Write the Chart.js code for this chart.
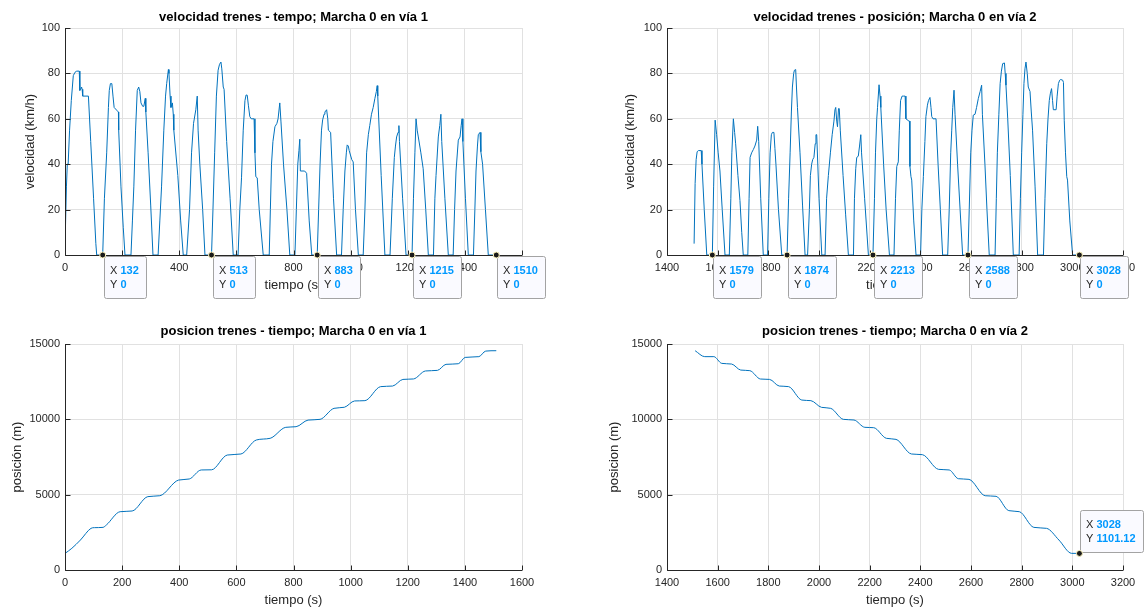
<!DOCTYPE html>
<html>
<head>
<meta charset="utf-8">
<script src="https://cdn.jsdelivr.net/npm/chart.js@4.4.0/dist/chart.umd.min.js"></script>
<style>
  body { margin: 0; background: #fff; width: 1145px; height: 609px; position: relative; overflow: hidden; }
  canvas { position: absolute; }
</style>
</head>
<body>
<canvas id="velVia1" width="572" height="300" style="left:0;top:0"></canvas>
<canvas id="velVia2" width="545" height="300" style="left:600px;top:0"></canvas>
<canvas id="posVia1" width="572" height="304" style="left:0;top:305px"></canvas>
<canvas id="posVia2" width="545" height="304" style="left:600px;top:305px"></canvas>
<script>
// velocidad, vía 1 (tiempo s, km/h)
const velTime1 = [0, 5, 8, 11, 16, 22, 29, 35, 41, 50, 52, 55, 58, 60, 62, 82, 90, 100, 108, 111,
  132, 138, 146, 152, 155, 159, 164, 168, 172, 183, 187, 188, 196, 204, 210,
  231, 236, 241, 247, 253, 258, 262, 266, 272, 276, 281, 283, 291, 300, 308,
  326, 332, 338, 346, 352, 356, 362, 364, 368, 371, 376, 379, 381, 395, 405, 414,
  426, 436, 443, 450, 458, 463, 466, 472, 482, 490,
  513, 518, 524, 530, 536, 541, 546, 549, 554, 557, 566, 578, 589,
  606, 612, 618, 624, 630, 634, 638, 642, 647, 652, 662, 665, 668, 673, 680, 694,
  715, 719, 723, 728, 735, 742, 746, 752, 756, 765, 777, 787,
  805, 810, 815, 819, 822, 824, 839, 846, 855, 864,
  883, 888, 893, 898, 902, 907, 910, 916, 920, 922, 930, 940, 951,
  968, 974, 980, 985, 988, 992, 995, 1004, 1009, 1017, 1027,
  1044, 1050, 1056, 1062, 1067, 1073, 1079, 1085, 1090, 1093, 1095, 1107, 1120,
  1138, 1146, 1153, 1157, 1161, 1166, 1169, 1171, 1182, 1194,
  1215, 1220, 1225, 1229, 1233, 1237, 1246, 1254, 1263, 1272,
  1290, 1295, 1299, 1307, 1312, 1316, 1319, 1330, 1342,
  1359, 1364, 1369, 1377, 1383, 1387, 1390, 1393, 1402, 1412,
  1430, 1435, 1439, 1444, 1447, 1453, 1456, 1462, 1472, 1482, 1510];
const velValue1 = [4, 30, 40, 40, 55, 68, 79, 80.5, 81, 81, 72.5, 73, 74, 73, 70, 70, 50, 25, 5, 0,
  0, 25, 45, 65, 72.5, 75.5, 75.5, 70, 65, 63.5, 63, 55, 30, 12, 0,
  0, 15, 30, 55, 72.5, 74, 72, 67, 65.5, 65.5, 69, 63, 45, 22, 0,
  0, 15, 30, 55, 70, 75.5, 81.7, 80, 70, 65, 67, 62, 55, 35, 15, 0,
  0, 20, 45, 58, 64, 70, 55, 40, 20, 0,
  0, 20, 45, 70, 81.4, 84, 85, 82, 74, 73, 50, 25, 0,
  0, 20, 34, 55, 68, 70.5, 70.4, 66, 61, 60, 60, 45, 34.5, 34, 20, 0,
  0, 20, 40, 50, 56.5, 58, 60, 67, 59, 40, 20, 0,
  0, 20, 40, 46, 51, 37, 37, 36, 15, 0,
  0, 20, 40, 55, 59.5, 62, 63, 64, 60, 55, 54, 25, 0,
  0, 20, 37, 45, 48.5, 48, 46, 42, 41, 20, 0,
  0, 20, 45, 53, 57, 62, 65, 69, 72, 74.6, 70, 35, 0,
  0, 25, 43, 48, 52, 54, 57, 50, 25, 0,
  0, 25, 45, 60, 55, 52, 45, 38, 20, 0,
  0, 25, 35, 52, 57, 62, 50, 25, 0,
  0, 20, 37, 50.6, 52, 57, 60, 50, 25, 0,
  0, 20, 37, 48, 53, 54, 45.5, 40, 20, 0, 0];

// velocidad, vía 2
const velTime2 = [1507, 1511, 1515, 1519, 1524, 1535, 1538, 1547, 1557,
  1579, 1584, 1590, 1596, 1602, 1609, 1618, 1629,
  1646, 1652, 1656, 1662, 1667, 1671, 1680, 1688, 1695, 1701,
  1719, 1724, 1728, 1734, 1741, 1747, 1754, 1758, 1762, 1770, 1780,
  1797, 1802, 1807, 1812, 1816, 1822, 1826, 1830, 1840, 1853,
  1874, 1880, 1886, 1891, 1895, 1900, 1903, 1908, 1911, 1915, 1925, 1935, 1945,
  1955, 1962, 1966, 1971, 1975, 1980, 1985, 1988, 1991, 2000, 2011,
  2024, 2030, 2037, 2045, 2052, 2059, 2063, 2066, 2070, 2073, 2077, 2080, 2084, 2095, 2105, 2116,
  2136, 2140, 2145, 2149, 2155, 2160, 2165, 2168, 2180, 2195,
  2213, 2219, 2223, 2228, 2231, 2237, 2241, 2244, 2255, 2265, 2278,
  2296, 2302, 2307, 2313, 2317, 2322, 2328, 2333, 2340, 2343, 2355, 2357, 2359, 2363, 2366, 2374, 2383,
  2401, 2406, 2412, 2418, 2422, 2428, 2432, 2438, 2442, 2445, 2450, 2462, 2470, 2479, 2488,
  2508, 2514, 2520, 2524, 2528, 2533, 2537, 2547, 2557, 2567,
  2588, 2593, 2599, 2604, 2609, 2616, 2622, 2629, 2636, 2642, 2645, 2655, 2663, 2672,
  2695, 2700, 2704, 2710, 2715, 2720, 2725, 2732, 2735, 2738, 2745, 2755, 2767,
  2790, 2795, 2800, 2805, 2809, 2813, 2817, 2822, 2826, 2833, 2838, 2843, 2853, 2863,
  2886, 2892, 2899, 2904, 2909, 2913, 2918, 2922, 2925, 2936, 2940, 2945, 2950, 2954, 2962, 2965, 2968, 2973, 2978, 2981, 2990, 3001, 3028];
const velValue2 = [5, 31.5, 42, 45.5, 46, 46, 40, 20, 0,
  0, 30, 59.4, 53, 45, 37, 20, 0,
  0, 25, 45, 60, 54, 49, 35, 24, 10, 0,
  0, 25, 43, 45, 46.5, 48, 50.6, 56.7, 50, 25, 0,
  0, 25, 45, 53, 54, 54, 47, 40, 20, 0,
  0, 25, 45, 63, 74, 80, 81.4, 81.7, 74, 65, 45, 22, 0,
  0, 20, 35, 40, 42, 43, 49, 53, 53, 25, 0,
  0, 25, 35, 45, 53, 59, 64, 65, 59, 56.5, 64.5, 64.5, 55, 35, 18, 0,
  0, 25, 38, 43, 43.5, 48, 53, 45, 25, 0,
  0, 25, 45, 60, 65, 75, 70, 65, 40, 20, 0,
  0, 25, 39, 41, 55, 68, 70, 70, 70, 60, 59, 59, 39, 34.5, 33, 15, 0,
  0, 20, 34.5, 50, 61, 66, 68, 69.4, 65, 61, 60, 60, 40, 20, 0,
  0, 20, 45, 55, 65, 72.6, 62, 40, 20, 0,
  0, 20, 45, 55, 61.6, 62, 65, 69, 72, 74.8, 62, 40, 20, 0,
  0, 25, 45, 62, 75.5, 81, 84.3, 84.6, 80, 74.8, 60, 35, 0,
  0, 25, 45, 62, 75.5, 82, 85, 80, 74, 72, 63, 55, 30, 0,
  0, 25, 49, 60, 68, 71, 73.3, 68, 64, 64, 70, 75.5, 77, 77.3, 77, 76, 59.4, 45, 34.5, 33, 15, 0, 0];

// posición, vía 1 (tiempo s, m)
const posTime1 = [0, 24, 54, 91, 103, 133, 145, 193, 235, 290, 332, 398, 435, 477, 513, 568, 616,
  670, 718, 773, 809, 851, 893, 942, 978, 1014, 1050, 1105, 1147, 1183, 1220, 1262, 1304,
  1334, 1377, 1401, 1449, 1473, 1510];
const posValue1 = [1100, 1440, 1990, 2765, 2810, 2830, 2990, 3870, 3915, 4870, 4930, 5970, 6040, 6640, 6650, 7630, 7700,
  8630, 8740, 9470, 9510, 9950, 10000, 10730, 10800, 11220, 11240, 12170, 12210, 12650, 12680, 13210, 13250,
  13650, 13690, 14110, 14160, 14530, 14555];

// posición, vía 2
const posTime2 = [1511, 1549, 1585, 1616, 1655, 1691, 1727, 1769, 1805, 1843, 1880, 1932, 1968, 2010, 2046,
  2096, 2138, 2181, 2216, 2266, 2304, 2365, 2408, 2472, 2514, 2550, 2592, 2656, 2699, 2749, 2791,
  2848, 2898, 2947, 2997, 3028];
const posValue2 = [14555, 14160, 14160, 13715, 13670, 13270, 13230, 12675, 12650, 12210, 12170, 11280, 11240, 10795, 10730,
  10000, 9955, 9470, 9445, 8740, 8670, 7700, 7655, 6680, 6640, 6060, 6015, 4930, 4890, 3940, 3870,
  2830, 2765, 1990, 1106, 1101.12];

// datatips
const tipX1 = [132, 513, 883, 1215, 1510];
const tipY1 = [0, 0, 0, 0, 0];
const tipX2 = [1579, 1874, 2213, 2588, 3028];
const tipY2 = [0, 0, 0, 0, 0];
const tipX4 = [3028];
const tipY4 = [1101.12];

const FONT = "'Liberation Sans', Arial, Helvetica, sans-serif";
const INK = "#262626";
const GRID = "#e1e1e1";
const BLUE = "#0072bd";

const toPoints = (xs, ys) => xs.map((x, i) => ({ x, y: ys[i] }));

// ejes estilo matlab: lineas y ticks hacia dentro encima de la curva
const innerTicks = {
  id: "innerTicks",
  afterDatasetsDraw(chart) {
    const { ctx, chartArea: a, scales } = chart;
    ctx.save();
    ctx.strokeStyle = INK;
    ctx.lineWidth = 1;
    ctx.beginPath();
    const l = Math.round(a.left) + 0.5;
    const b = Math.round(a.bottom) + 0.5;
    ctx.moveTo(l, a.top);
    ctx.lineTo(l, b);
    ctx.lineTo(a.right, b);
    scales.x.ticks.forEach((t) => {
      const p = Math.round(scales.x.getPixelForValue(t.value)) + 0.5;
      ctx.moveTo(p, b);
      ctx.lineTo(p, b - 5);
    });
    scales.y.ticks.forEach((t) => {
      const p = Math.round(scales.y.getPixelForValue(t.value)) + 0.5;
      ctx.moveTo(l, p);
      ctx.lineTo(l + 5, p);
    });
    ctx.stroke();
    ctx.restore();
  },
};

const datatips = {
  id: "datatips",
  afterDraw(chart, args, opts) {
    if (!opts.xs) return;
    const { ctx, scales } = chart;
    ctx.save();
    opts.xs.forEach((tx, i) => {
      const ty = opts.ys[i];
      const px = scales.x.getPixelForValue(tx);
      const py = scales.y.getPixelForValue(ty);
      const rows = [["X ", String(tx)], ["Y ", String(ty)]];
      let w = 0;
      rows.forEach(([lab, val]) => {
        ctx.font = "11px " + FONT;
        const wl = ctx.measureText(lab).width;
        ctx.font = "bold 11px " + FONT;
        w = Math.max(w, wl + ctx.measureText(val).width);
      });
      const bw = Math.round(w + 13);
      const bh = 42;
      const bx = Math.round(px) + 1;
      const by = opts.above ? Math.round(py) - 1 - bh : Math.round(py) + 1;

      ctx.fillStyle = "#fafaff";
      ctx.strokeStyle = "#a3a3a3";
      ctx.lineWidth = 1;
      ctx.beginPath();
      ctx.roundRect(bx + 0.5, by + 0.5, bw, bh, 2);
      ctx.fill();
      ctx.stroke();

      ctx.textBaseline = "middle";
      rows.forEach(([lab, val], r) => {
        const cy = by + 15 + r * 13.5;
        ctx.font = "11px " + FONT;
        ctx.fillStyle = INK;
        ctx.fillText(lab, bx + 6, cy);
        const wl = ctx.measureText(lab).width;
        ctx.font = "bold 11px " + FONT;
        ctx.fillStyle = "#0099ff";
        ctx.fillText(val, bx + 6 + wl, cy);
      });

      ctx.beginPath();
      ctx.arc(px, py, 3, 0, Math.PI * 2);
      ctx.fillStyle = "#1a1a1a";
      ctx.fill();
      ctx.strokeStyle = "#fff6c0";
      ctx.lineWidth = 1;
      ctx.stroke();
    });
    ctx.restore();
  },
};

Chart.register(innerTicks, datatips);

const plainNumber = (v) => String(v);

const makeChart = (id, c) =>
  new Chart(document.getElementById(id), {
    type: "line",
    data: {
      datasets: [
        {
          data: toPoints(c.xs, c.ys),
          borderColor: BLUE,
          borderWidth: 1,
          pointRadius: 0,
          fill: false,
          tension: 0,
          cubicInterpolationMode: c.smooth ? "monotone" : "default",
        },
      ],
    },
    options: {
      responsive: false,
      animation: false,
      events: [],
      layout: { padding: { left: 0, right: c.padRight, top: 0, bottom: 0 } },
      plugins: {
        legend: { display: false },
        tooltip: { enabled: false },
        title: {
          display: true,
          text: c.title,
          fullSize: false,
          color: "#000",
          font: { family: FONT, size: 13, weight: "bold" },
          padding: c.titlePad,
        },
        datatips: c.tips || {},
      },
      scales: {
        x: {
          type: "linear",
          min: c.xMin,
          max: c.xMax,
          ticks: {
            stepSize: 200,
            autoSkip: false,
            maxRotation: 0,
            padding: 6,
            color: INK,
            font: { family: FONT, size: 11 },
            callback: plainNumber,
          },
          grid: { color: GRID, drawTicks: false },
          border: { display: false },
          title: {
            display: true,
            text: "tiempo (s)",
            color: INK,
            font: { family: FONT, size: 13 },
            padding: { top: 0, bottom: c.xTitleBottom },
          },
          afterFit: (s) => {
            s.height = c.xHeight;
          },
        },
        y: {
          min: 0,
          max: c.yMax,
          ticks: {
            stepSize: c.yStep,
            autoSkip: false,
            padding: 5,
            color: INK,
            font: { family: FONT, size: 11 },
            callback: plainNumber,
          },
          grid: { color: GRID, drawTicks: false },
          border: { display: false },
          title: {
            display: true,
            text: c.yTitle,
            color: INK,
            font: { family: FONT, size: 13 },
            padding: { top: c.yTitlePad, bottom: 0 },
          },
          afterFit: (s) => {
            s.width = c.yWidth;
          },
        },
      },
    },
  });

makeChart("velVia1", {
  xs: velTime1, ys: velValue1, xMin: 0, xMax: 1600, yMax: 100, yStep: 20,
  title: "velocidad trenes - tempo; Marcha 0 en vía 1", yTitle: "velocidad (km/h)",
  yWidth: 65, yTitlePad: 22.2, padRight: 50, titlePad: { top: 9.2, bottom: 3.2 },
  xHeight: 45, xTitleBottom: 7.2, tips: { xs: tipX1, ys: tipY1 },
});

makeChart("velVia2", {
  xs: velTime2, ys: velValue2, xMin: 1400, xMax: 3200, yMax: 100, yStep: 20,
  title: "velocidad trenes - posición; Marcha 0 en vía 2", yTitle: "velocidad (km/h)",
  yWidth: 67, yTitlePad: 22.2, padRight: 22, titlePad: { top: 9.2, bottom: 3.2 },
  xHeight: 45, xTitleBottom: 7.2, tips: { xs: tipX2, ys: tipY2 },
});

makeChart("posVia1", {
  xs: posTime1, ys: posValue1, xMin: 0, xMax: 1600, yMax: 15000, yStep: 5000, smooth: true,
  title: "posicion trenes - tiempo; Marcha 0 en vía 1", yTitle: "posición (m)",
  yWidth: 65, yTitlePad: 9.2, padRight: 50, titlePad: { top: 18.2, bottom: 5.2 },
  xHeight: 39, xTitleBottom: 1.2,
});

makeChart("posVia2", {
  xs: posTime2, ys: posValue2, xMin: 1400, xMax: 3200, yMax: 15000, yStep: 5000, smooth: true,
  title: "posicion trenes - tiempo; Marcha 0 en vía 2", yTitle: "posicion (m)",
  yWidth: 67, yTitlePad: 6.2, padRight: 22, titlePad: { top: 18.2, bottom: 5.2 },
  xHeight: 39, xTitleBottom: 1.2, tips: { xs: tipX4, ys: tipY4, above: true },
});
</script>
</body>
</html>
